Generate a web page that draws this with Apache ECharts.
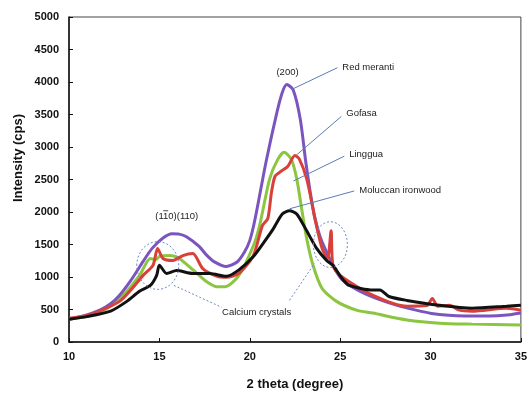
<!DOCTYPE html>
<html>
<head>
<meta charset="utf-8">
<script src="https://cdn.jsdelivr.net/npm/echarts@6.0.0/dist/echarts.min.js"></script>
<style>
  html, body { margin: 0; padding: 0; background: #fff; }
  #main { width: 530px; height: 396px; }
</style>
</head>
<body>
<div id="main"></div>
<script>
// [2 theta, intensity]
const redMeranti = [
  [10, 350], [10.8, 400], [11.7, 490], [12.3, 590], [12.8, 720], [13.5, 980],
  [14.1, 1240], [14.6, 1440], [15.2, 1600], [15.7, 1665], [16.1, 1660], [16.5, 1620],
  [17.2, 1470], [17.6, 1340], [18.0, 1240], [18.7, 1160], [19.3, 1230], [19.7, 1380],
  [20.0, 1560], [20.3, 1900], [20.9, 2770], [21.5, 3530], [21.8, 3840], [22.05, 3960],
  [22.4, 3880], [22.8, 3420], [23.1, 2770], [23.5, 2050], [23.8, 1700], [24.0, 1540],
  [24.6, 1180], [25.1, 960], [25.6, 860], [26.4, 740], [27.3, 640], [28.2, 560],
  [29.2, 490], [30.05, 440], [31.0, 410], [31.9, 400], [32.8, 400], [33.7, 405],
  [34.4, 420], [35, 445]
];
const gofasa = [
  [10, 365], [11, 410], [11.7, 475], [12.8, 625], [13.5, 825], [14.1, 1025],
  [14.65, 1180], [14.9, 1440], [15.2, 1285], [15.75, 1255], [16.3, 1330], [16.85, 1360],
  [17.4, 1130], [18.2, 1010], [18.7, 995], [19.4, 1055], [20.2, 1330], [20.7, 1790],
  [21.0, 1900], [21.2, 2300], [21.4, 2550], [21.75, 2630], [22.1, 2700], [22.5, 2870],
  [22.75, 2810], [23.15, 2510], [23.5, 2050], [23.6, 1900], [24.0, 1440], [24.3, 1285],
  [24.5, 1710], [24.6, 1180], [25.0, 1025], [26.8, 720], [28.7, 550], [29.8, 560],
  [30.1, 670], [30.4, 550], [31.05, 565], [31.6, 490], [32.3, 475], [34.2, 520], [35, 490]
];
const linggua = [
  [10, 350], [11, 400], [12, 500], [13, 720], [13.9, 1025], [14.5, 1285],
  [14.8, 1265], [15.0, 1315], [15.6, 1330], [16.1, 1285], [16.9, 1100], [17.6, 930],
  [18.2, 850], [18.7, 855], [19.4, 1025], [20.2, 1480], [20.55, 1800], [21.1, 2510],
  [21.55, 2810], [21.9, 2920], [22.3, 2810], [22.6, 2510], [22.9, 2000], [23.15, 1590],
  [23.5, 1180], [24.0, 825], [24.8, 625], [25.9, 490], [26.8, 445], [28.7, 340],
  [30.5, 290], [32.3, 275], [35, 260]
];
const moluccan = [
  [10, 350], [11, 390], [12.3, 475], [13.2, 625], [13.9, 780], [14.5, 870],
  [14.85, 1025], [15.0, 1180], [15.4, 1055], [15.95, 1100], [16.85, 1055], [17.8, 1055],
  [18.7, 1010], [19.4, 1110], [20.2, 1315], [20.8, 1540], [21.3, 1740], [21.8, 1970],
  [22.2, 2020], [22.6, 1970], [23.15, 1710], [23.7, 1440], [24.25, 1255], [24.6, 1180],
  [25.1, 980], [25.5, 870], [26.8, 800], [27.2, 800], [27.7, 700], [28.7, 640],
  [30.5, 565], [32.3, 520], [34.2, 550], [35, 565]
];

const noteFont = '9.5px "Liberation Sans", Arial, sans-serif';

function line(name, data, color, z) {
  return {
    name: name,
    type: 'line',
    data: data,
    showSymbol: false,
    smooth: 0.25,
    z: z,
    lineStyle: { color: color, width: 3 },
    itemStyle: { color: color }
  };
}

const chart = echarts.init(document.getElementById('main'));
chart.setOption({
  animation: false,
  backgroundColor: '#fff',
  grid: {
    left: 69, right: 8, top: 17, bottom: 52,
    show: true, borderColor: '#444', borderWidth: 1
  },
  xAxis: {
    type: 'value', min: 10, max: 35, interval: 5,
    name: '2 theta (degree)', nameLocation: 'middle', nameGap: 36,
    nameTextStyle: { fontFamily: 'Liberation Sans', fontWeight: 'bold', fontSize: 13, color: '#111' },
    axisLine: { onZero: false, lineStyle: { color: '#111', width: 1.5 } },
    axisTick: { inside: true, length: 4, lineStyle: { color: '#111' } },
    axisLabel: { margin: 9, fontFamily: 'Liberation Sans', fontWeight: 'bold', fontSize: 11, color: '#111' },
    splitLine: { show: false }
  },
  yAxis: {
    type: 'value', min: 0, max: 5000, interval: 500,
    axisLine: { show: true, lineStyle: { color: '#111', width: 1.5 } },
    axisTick: { show: true, inside: true, length: 4, lineStyle: { color: '#111' } },
    axisLabel: { margin: 10, formatter: v => String(v), fontFamily: 'Liberation Sans', fontWeight: 'bold', fontSize: 11, color: '#111' },
    splitLine: { show: false }
  },
  series: [
    line('Linggua', linggua, '#8cc540', 2),
    line('Red meranti', redMeranti, '#7b55bf', 3),
    line('Gofasa', gofasa, '#d8413b', 4),
    line('Moluccan ironwood', moluccan, '#111111', 5)
  ]
});

// annotations placed in data coordinates
const px = p => chart.convertToPixel({ gridIndex: 0 }, p);
const leaders = [
  { text: 'Red meranti', at: [25.12, 4220], from: [24.85, 4220], to: [22.31, 3884] },
  { text: 'Gofasa', at: [25.34, 3517], from: [25.07, 3471], to: [22.58, 2875] },
  { text: 'Linggua', at: [25.5, 2890], from: [25.23, 2859], to: [22.42, 2477] },
  { text: 'Moluccan ironwood', at: [26.06, 2339], from: [25.78, 2324], to: [22.2, 2049] }
];
const circles = [
  { c: [14.91, 1177], r: [1.16, 367] },
  { c: [24.46, 1498], r: [0.94, 352] }
];
const dotted = [
  [[15.8, 871], [18.44, 535]],
  [[22.2, 642], [23.58, 1208]]
];

const g = [];
leaders.forEach(l => {
  const a = px(l.from), b = px(l.to), t = px(l.at);
  g.push({ type: 'line', shape: { x1: a[0], y1: a[1], x2: b[0], y2: b[1] },
    style: { stroke: '#5a7db5', lineWidth: 1 }, z: 10 });
  g.push({ type: 'text', style: { text: l.text, x: t[0], y: t[1], font: noteFont,
    fill: '#222', textAlign: 'left', textVerticalAlign: 'middle' }, z: 10 });
});
circles.forEach(c => {
  const o = px(c.c), e = px([c.c[0] + c.r[0], c.c[1] + c.r[1]]);
  g.push({ type: 'ellipse', shape: { cx: o[0], cy: o[1], rx: e[0] - o[0], ry: o[1] - e[1] },
    style: { fill: 'none', stroke: '#6a8cc8', lineWidth: 1, lineDash: [2, 2] }, z: 10 });
});
dotted.forEach(d => {
  const a = px(d[0]), b = px(d[1]);
  g.push({ type: 'line', shape: { x1: a[0], y1: a[1], x2: b[0], y2: b[1] },
    style: { stroke: '#6a8cc8', lineWidth: 1, lineDash: [2, 2] }, z: 10 });
});
const p200 = px([22.09, 4144]);
g.push({ type: 'text', style: { text: '(200)', x: p200[0], y: p200[1], font: noteFont,
  fill: '#222', textAlign: 'center', textVerticalAlign: 'middle' }, z: 10 });
// (1-10)(110): overline drawn over the second "1"
const p110 = px([15.96, 1927]);
g.push({ type: 'text', style: { text: '(110)(110)', x: p110[0], y: p110[1], font: noteFont,
  fill: '#222', textAlign: 'center', textVerticalAlign: 'middle' }, z: 10 });
g.push({ type: 'line', shape: { x1: p110[0] - 13.5, y1: p110[1] - 6, x2: p110[0] - 8.5, y2: p110[1] - 6 },
  style: { stroke: '#222', lineWidth: 0.8 }, z: 10 });
const pCa = px([20.38, 459]);
g.push({ type: 'text', style: { text: 'Calcium crystals', x: pCa[0], y: pCa[1], font: noteFont,
  fill: '#222', textAlign: 'center', textVerticalAlign: 'middle' }, z: 10 });
// y axis title sits a little above the middle of the axis
g.push({ type: 'text', x: 18, y: 158, rotation: Math.PI / 2,
  style: { text: 'Intensity (cps)', x: 0, y: 0, font: 'bold 13px "Liberation Sans", Arial, sans-serif',
    fill: '#111', textAlign: 'center', textVerticalAlign: 'middle' } });

chart.setOption({ graphic: g });
</script>
</body>
</html>
